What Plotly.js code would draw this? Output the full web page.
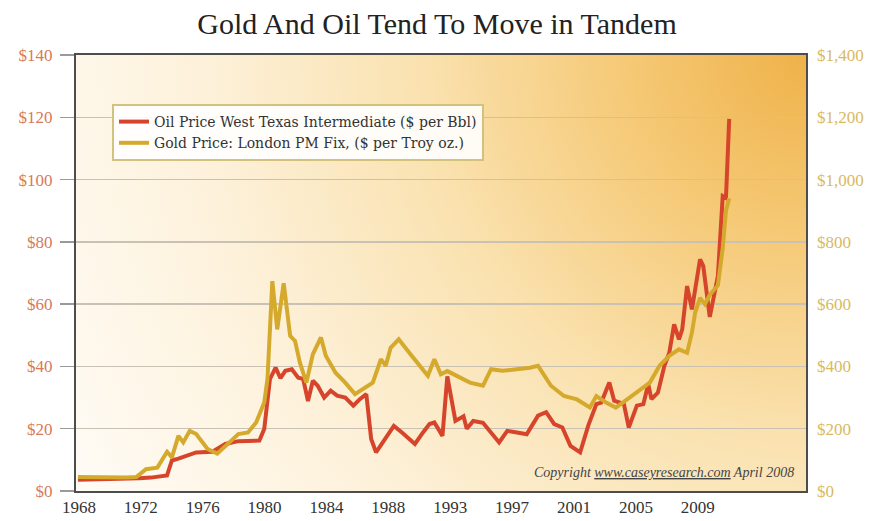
<!DOCTYPE html>
<html>
<head>
<meta charset="utf-8">
<script src="https://cdn.plot.ly/plotly-3.0.1.min.js"></script>
<style>
  html, body { margin: 0; padding: 0; background: #ffffff; }
  #chart { width: 874px; height: 521px; }
</style>
</head>
<body>
<div id="chart"></div>
<script>
// ---- Data ----
const oilYears = [1968.0, 1969.0, 1970.0, 1971.0, 1971.8, 1972.5, 1973.5, 1973.8, 1974.2, 1975.3,
  1976.3, 1977.1, 1977.9, 1979.2, 1979.5, 1979.85, 1980.2, 1980.5, 1980.8, 1981.2,
  1981.6, 1981.9, 1982.2, 1982.5, 1982.8, 1983.2, 1983.6, 1984.0, 1984.5, 1985.0,
  1985.4, 1985.8, 1986.1, 1986.4, 1987.0, 1987.5, 1988.0, 1988.8, 1989.3, 1989.7,
  1990.0, 1990.5, 1990.8, 1991.3, 1991.8, 1992.0, 1992.4, 1993.0, 1994.0, 1994.5,
  1995.1, 1995.7, 1996.4, 1996.9, 1997.4, 1997.9, 1998.4, 1999.0, 1999.5, 2000.0,
  2000.3, 2000.8, 2001.1, 2001.7, 2002.0, 2002.5, 2002.9, 2003.2, 2003.4, 2003.8,
  2004.2, 2004.5, 2004.8, 2005.1, 2005.3, 2005.6, 2005.9, 2006.4, 2006.6, 2007.0,
  2007.3, 2007.5, 2007.8, 2008.0, 2008.2];
const oilPrice = [3.6, 3.7, 3.7, 3.9, 4.1, 4.3, 5.0, 9.8, 10.4, 12.4,
  12.6, 15.1, 16.0, 16.2, 19.9, 35.9, 39.6, 36.2, 38.6, 39.1,
  36.4, 36.0, 28.9, 35.4, 33.8, 30.0, 32.2, 30.6, 30.0, 27.4,
  29.5, 31.1, 16.7, 12.4, 17.2, 20.9, 18.8, 15.1, 18.8, 21.5,
  22.0, 17.7, 36.8, 22.5, 24.0, 20.0, 22.5, 21.9, 15.6, 19.3,
  18.8, 18.2, 24.2, 25.3, 21.5, 20.4, 14.5, 12.4, 21.0, 27.9,
  28.4, 34.8, 29.0, 27.9, 20.4, 27.4, 27.9, 34.3, 29.5, 31.6,
  40.2, 44.4, 53.5, 48.7, 51.9, 65.8, 58.3, 74.4, 72.2, 55.9,
  63.7, 69.0, 94.7, 94.1, 119.5];

const goldYears = [1968.0, 1969.0, 1970.0, 1971.0, 1971.6, 1972.2, 1972.9, 1973.5, 1973.8, 1974.2,
  1974.5, 1974.9, 1975.3, 1976.0, 1976.6, 1977.2, 1977.9, 1978.5, 1979.0, 1979.5,
  1979.7, 1980.0, 1980.3, 1980.7, 1981.1, 1981.4, 1981.7, 1982.1, 1982.5, 1983.0,
  1983.3, 1983.9, 1984.5, 1985.1, 1985.8, 1986.2, 1986.7, 1987.0, 1987.3, 1987.8,
  1988.6, 1989.6, 1990.0, 1990.4, 1990.8, 1991.4, 1992.2, 1993.0, 1993.5, 1994.2,
  1995.1, 1995.9, 1996.4, 1997.2, 1998.0, 1998.8, 1999.6, 2000.0, 2000.6, 2001.2,
  2001.9, 2002.7, 2003.3, 2003.9, 2004.5, 2005.1, 2005.6, 2005.9, 2006.1, 2006.4,
  2006.7, 2007.0, 2007.5, 2007.8, 2008.0, 2008.2];
const goldPrice = [45, 44, 42, 43, 45, 70, 75, 126, 108, 177,
  156, 193, 183, 135, 120, 151, 183, 188, 220, 284,
  360, 674, 519, 667, 498, 482, 412, 348, 439, 493,
  434, 380, 348, 311, 337, 348, 423, 402, 460, 487,
  434, 370, 423, 375, 385, 370, 348, 338, 391, 386,
  391, 396, 402, 338, 305, 294, 268, 305, 284, 268,
  294, 327, 348, 402, 434, 455, 444, 509, 573, 620,
  600, 630, 660, 780, 900, 940];

const xTickLabels = ['1968', '1972', '1976', '1980', '1984', '1988', '1993', '1997', '2001', '2005', '2009'];
const oilTickVals = [0, 20, 40, 60, 80, 100, 120, 140];
const oilTickText = ['$0', '$20', '$40', '$60', '$80', '$100', '$120', '$140'];
const goldTickVals = [0, 200, 400, 600, 800, 1000, 1200, 1400];
const goldTickText = ['$0', '$200', '$400', '$600', '$800', '$1,000', '$1,200', '$1,400'];

const seriesNames = ['Oil Price West Texas Intermediate ($ per Bbl)', 'Gold Price: London PM Fix, ($ per Troy oz.)'];

// ---- Background gradient (plot area) ----
const bgSvg = '<svg xmlns="http://www.w3.org/2000/svg" width="730" height="436" viewBox="0 0 730 436" preserveAspectRatio="none">' +
  '<defs><radialGradient id="g" gradientUnits="userSpaceOnUse" cx="730" cy="0" r="860">' +
  '<stop offset="0" stop-color="#EFB24A"/>' +
  '<stop offset="0.2" stop-color="#F5C874"/>' +
  '<stop offset="0.45" stop-color="#FAE2B0"/>' +
  '<stop offset="0.7" stop-color="#FDF1DA"/>' +
  '<stop offset="1" stop-color="#FFFCF7"/>' +
  '</radialGradient></defs><rect x="0" y="0" width="730" height="436" fill="url(#g)"/></svg>';
const bgUri = 'data:image/svg+xml;base64,' + btoa(bgSvg);

const serif = 'Liberation Serif, Times New Roman, serif';
const wideSerif = 'DejaVu Serif, serif';

const traces = [
  {
    x: goldYears, y: goldPrice, yaxis: 'y2', type: 'scatter', mode: 'lines',
    name: seriesNames[1], legendrank: 2,
    line: { color: '#D5A92C', width: 4 }
  },
  {
    x: oilYears, y: oilPrice, yaxis: 'y', type: 'scatter', mode: 'lines',
    name: seriesNames[0], legendrank: 1,
    line: { color: '#D6452B', width: 4 }
  }
];

const tickStart = 1968.06, tickStep = 3.82;
const xTickVals = xTickLabels.map((_, i) => tickStart + i * tickStep);

const layout = {
  width: 874, height: 521,
  margin: { l: 76, r: 68, t: 55, b: 30 },
  paper_bgcolor: '#ffffff',
  plot_bgcolor: 'rgba(0,0,0,0)',
  showlegend: true,
  title: {
    text: 'Gold And Oil Tend To Move in Tandem',
    font: { family: serif, size: 30, color: '#222222' },
    x: 0.5, xref: 'container', xanchor: 'center',
    y: 1 - 23 / 521, yref: 'container', yanchor: 'middle'
  },
  xaxis: {
    range: [1967.88, 2012.94],
    tickmode: 'array', tickvals: xTickVals, ticktext: xTickLabels,
    ticks: '', showgrid: false, zeroline: false,
    showline: true, mirror: true, linecolor: '#4d4d4d', linewidth: 2,
    tickfont: { family: serif, size: 17, color: '#333333' }
  },
  yaxis: {
    range: [0, 140],
    tickmode: 'array', tickvals: oilTickVals, ticktext: oilTickText,
    ticks: 'outside', ticklen: 14, tickcolor: '#9a9a9a', tickwidth: 1.5,
    ticklabelstandoff: 4,
    showgrid: true, gridcolor: '#C9C2B4', gridwidth: 1.5,
    zeroline: false,
    showline: true, mirror: true, linecolor: '#4d4d4d', linewidth: 2,
    tickfont: { family: serif, size: 17, color: '#D77A58' }
  },
  yaxis2: {
    range: [0, 1400], overlaying: 'y', side: 'right',
    tickmode: 'array', tickvals: goldTickVals, ticktext: goldTickText,
    ticks: '', showgrid: false, zeroline: false, showline: false,
    ticklabelstandoff: 10,
    tickfont: { family: serif, size: 17, color: '#D8BA62' }
  },
  legend: {
    x: (112 - 76) / 730, xanchor: 'left',
    y: (491 - 104) / 436, yanchor: 'top',
    bgcolor: 'rgba(255,255,255,0.9)', bordercolor: '#D3C27E', borderwidth: 2,
    font: { family: wideSerif, size: 14, color: '#333333' },
    tracegroupgap: 0
  },
  images: [{
    source: bgUri, xref: 'paper', yref: 'paper', x: 0, y: 1,
    sizex: 1, sizey: 1, sizing: 'stretch', xanchor: 'left', yanchor: 'top',
    layer: 'below'
  }],
  annotations: [{
    text: '<i>Copyright <u>www.caseyresearch.com</u> April 2008</i>',
    xref: 'paper', yref: 'paper',
    x: (796 - 76) / 730, xanchor: 'right',
    y: (491 - 472) / 436, yanchor: 'middle',
    showarrow: false,
    font: { family: serif, size: 14, color: '#444444' }
  }]
};

Plotly.newPlot('chart', traces, layout, { displayModeBar: false, staticPlot: true });
</script>
</body>
</html>
